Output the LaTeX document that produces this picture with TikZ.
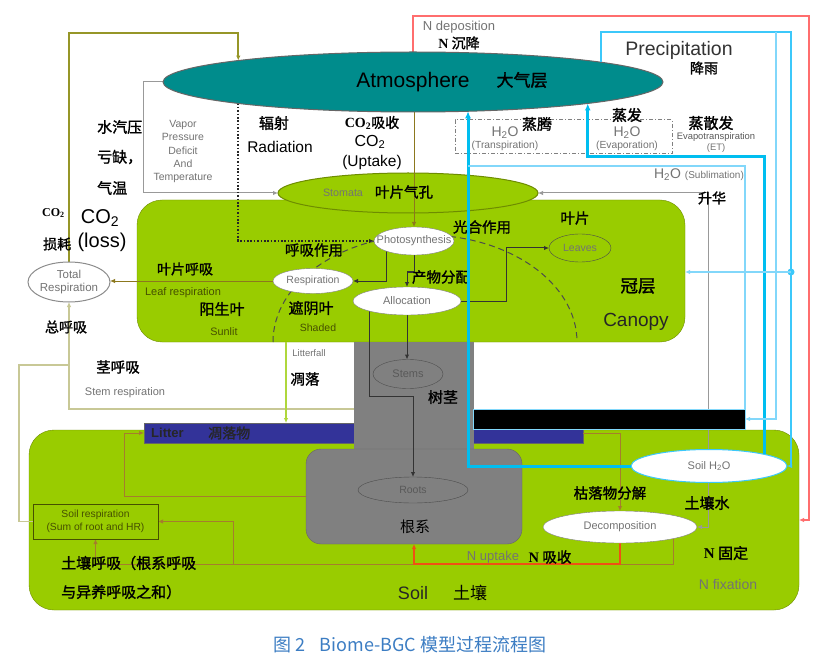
\documentclass[tikz,border=0pt]{standalone}
\usepackage{fontspec}
\setmainfont{Liberation Sans}
\setsansfont{Liberation Sans}
\newfontfamily\lserif{Liberation Serif}
\newfontfamily\cjk{Noto Sans CJK SC}
\newfontfamily\cjkb[FakeBold=1.5]{Noto Sans CJK SC}
\usetikzlibrary{shapes.geometric,arrows.meta}
\pgfdeclarelayer{back}
\pgfdeclarelayer{lines}
\pgfdeclarelayer{front}
\pgfsetlayers{back,lines,main,front}
\definecolor{leaf}{RGB}{153,204,0}
\definecolor{leafdk}{RGB}{110,140,0}
\definecolor{atmc}{RGB}{0,140,140}
\definecolor{olv}{RGB}{150,150,40}
\definecolor{olv2}{RGB}{140,120,30}
\definecolor{pale}{RGB}{200,200,150}
\definecolor{lfall}{RGB}{175,215,60}
\definecolor{brn}{RGB}{165,125,45}
\definecolor{cyA}{RGB}{0,190,240}
\definecolor{cyB}{RGB}{60,200,250}
\definecolor{cyC}{RGB}{130,215,250}
\definecolor{nred}{RGB}{255,110,110}
\definecolor{uptk}{RGB}{240,80,20}
\definecolor{litc}{RGB}{51,51,153}
\definecolor{capc}{RGB}{60,125,195}
\definecolor{stemc}{RGB}{128,128,128}
\definecolor{txtol}{RGB}{70,80,0}
\tikzset{
  ell/.style={ellipse, inner sep=0pt, outer sep=0pt},
  cb/.style={inner sep=0pt, font=\cjkb\fontsize{#1}{#1}\selectfont},
  cr/.style={inner sep=0pt, font=\cjk\fontsize{#1}{#1}\selectfont},
  sa/.style={inner sep=0pt, font=\sffamily\fontsize{#1}{#1}\selectfont},
  gt/.style={sa=#1, text=black!55},
  kolv/.style={draw=olv, line width=2.2pt},
  kresp/.style={draw=olv2, line width=1pt},
  kpale/.style={draw=pale, line width=1.3pt},
  kfall/.style={draw=lfall, line width=1.2pt},
  kbrn/.style={draw=brn, line width=0.9pt},
  kdark/.style={draw=black!80, line width=1pt},
  kgray/.style={draw=black!40, line width=1pt},
  kred/.style={draw=nred, line width=1.3pt},
  kupt/.style={draw=uptk, line width=1.2pt},
  kcyA/.style={draw=cyA, line width=3pt, -{Latex[length=7pt,width=6pt]}},
  kcyB/.style={draw=cyB, line width=1.6pt},
  kcyC/.style={draw=cyC, line width=1.2pt},
  kdot/.style={draw=black!85, line width=1.6pt, dash pattern=on 1.6pt off 1.8pt},
  kdash/.style={draw=black!70, line width=1pt, dash pattern=on 6pt off 4pt},
  kdashdot/.style={draw=black!50, line width=1pt, dash pattern=on 4pt off 2pt on 1pt off 2pt},
}
\begin{document}
\begin{tikzpicture}[x=1pt,y=-1pt,>={Latex[length=5pt,width=4.5pt]}]
\useasboundingbox (0,0) rectangle (824,668);
\begin{pgfonlayer}{back}
\fill[white] (0,0) rectangle (824,668);
\node[draw=leafdk, fill=leaf, rounded corners=25pt, minimum width=548pt, minimum height=142pt, inner sep=0pt, outer sep=0pt] (canopy) at (411,271) {};
\node[draw=leafdk, fill=leaf, rounded corners=25pt, minimum width=770pt, minimum height=180pt, inner sep=0pt, outer sep=0pt] (soil) at (414,520) {};
\node[fill=litc, draw=black!60, minimum width=439pt, minimum height=20pt, inner sep=0pt, outer sep=0pt] (litter) at (363.5,433) {};
\node[fill=stemc, minimum width=120pt, minimum height=108pt, inner sep=0pt, outer sep=0pt] (stem) at (414,396) {};
\node[fill=stemc, draw=black!60, rounded corners=15pt, minimum width=216pt, minimum height=95pt, inner sep=0pt, outer sep=0pt] (rootbox) at (414,496.5) {};
\node[ell, fill=leaf, draw=leafdk, line width=1pt, minimum width=260pt, minimum height=40pt] (stomata) at (408,193) {};
\node[kdashdot, minimum width=217pt, minimum height=34pt, inner sep=0pt, outer sep=0pt] (etbox) at (563.5,137) {};
\end{pgfonlayer}
% main shapes
\node[fill=black, draw=cyC, minimum width=272pt, minimum height=20pt, inner sep=0pt, outer sep=0pt] (snow) at (609,419) {};
\node[ell, fill=atmc, draw=black!60, line width=1pt, minimum width=500pt, minimum height=60pt] (atm) at (413,82) {};
\node[ell, fill=white, draw=black!50, minimum width=80pt, minimum height=28pt] (photo) at (414,241) {};
\node[ell, fill=white, draw=black!50, minimum width=80pt, minimum height=25pt] (resp) at (313,281) {};
\node[ell, fill=white, draw=black!50, minimum width=108pt, minimum height=28pt] (alloc) at (407,301) {};
\node[ell, draw=black!70, minimum width=62pt, minimum height=28pt] (leaves) at (580,248) {};
\node[ell, draw=black!70, minimum width=70pt, minimum height=29pt] (stems) at (408,374) {};
\node[ell, draw=black!70, minimum width=110pt, minimum height=26pt] (roots) at (413,490) {};
\node[ell, fill=white, draw=black!45, line width=1pt, minimum width=82pt, minimum height=40pt] (totresp) at (69,282) {};
\node[draw=txtol, line width=1pt, minimum width=125pt, minimum height=35pt, inner sep=0pt, outer sep=0pt] (soilresp) at (95.5,521.5) {};
\node[ell, fill=white, draw=black!50, minimum width=154pt, minimum height=32pt] (decomp) at (620,527) {};
\node[ell, fill=white, draw=cyB, line width=1pt, minimum width=156pt, minimum height=33pt] (soilh2o) at (709,466) {};
% helper coordinates
\coordinate (rTop) at (809,16);
\coordinate (gV) at (708,360);
\coordinate (sR) at (354,409);
\coordinate (sJ) at (69,365);
\coordinate (lf) at (286,342);
\coordinate (bJ) at (233,564);
\coordinate (arcS) at (273,342);
\coordinate (pTR) at (791,32);
\coordinate (pdot) at (791,272);
\coordinate (pSn) at (776,32);
\coordinate (tJoin) at (468,166);
\begin{pgfonlayer}{lines}
\draw[kolv,->] (totresp.north) -- ++(0,-229) -| (atm.173);
\draw[kgray,->] (atm.west) -- ++(-20,0) |- (stomata.west);
\draw[kdot,->] (atm.187) |- (photo.west);
\draw[kresp,->] (atm.south -| photo.north) -- (photo.north);
\draw[kred,->] (atm.north) |- (rTop) |- (soil.east);
\draw[kgray,<->] (stomata.east) -| (gV) |- (decomp.east);
\draw[kdash] (arcS) arc[start angle=180,end angle=0,x radius=152pt,y radius=107pt];
\draw[kdark,->] (photo.200) |- (resp.east);
\draw[kdark,->] (photo.south) -- ++(0,17) -| (alloc.north);
\draw[kdark,->] (alloc.east) -- ++(45,0) |- (leaves.west);
\draw[kdark,->] (alloc.south) -- (alloc.south |- stems.north);
\draw[kdark,->] (alloc.195) -- ++(0,85) -| (roots.north);
\draw[kresp,->] (resp.west) -- (resp.west -| totresp.east);
\draw[kpale,->] (sR) -| (totresp.south);
\draw[kpale] (soilresp.west) -- ++(-14,0) |- (sJ);
\draw[kfall,->] (lf) -- (lf |- litter.north);
\draw[kbrn,->] (litter.east) -| (decomp.north);
\draw[kbrn,->] (rootbox.west) -- ++(-182,0) |- (litter.west);
\draw[kbrn,->] (decomp.348.5) -- ++(0,26) -| (soilresp.south);
\draw[kbrn,->] (bJ) |- (soilresp.east);
\draw[kupt,->] (decomp.south) -- ++(0,21) -| (rootbox.south);
\end{pgfonlayer}
\begin{pgfonlayer}{front}
\draw[kcyA] (soilh2o.west) -| (atm.332);
\draw[kcyA] (soilh2o.12.4) -- ++(0,-298) -| (atm.353.25);
\draw[kcyB,->] (atm.6.75) |- (pTR) |- (soilh2o.east);
\fill[cyB] (pdot) circle (3.5pt);
\draw[kcyC,->] (pdot) -- (pdot -| canopy.east);
\draw[kcyC,->] (pSn) |- (snow.east);
\draw[kcyC] (snow.north east) |- (tJoin);
\end{pgfonlayer}
% texts in shapes
\node[gt=11] (photoT) at (photo) {Photosynthesis};
\node[gt=10.5] (respT) at (resp) {Respiration};
\node[gt=11] (allocT) at (alloc) {Allocation};
\node[gt=10.5] (leavesT) at (leaves) {Leaves};
\node[gt=11, text=black!65] (stemsT) at (stems) {Stems};
\node[gt=10.5, text=black!65] (rootsT) at (roots) {Roots};
\node[gt=11] (decompT) at (decomp) {Decomposition};
\node[gt=11] (soilh2oT) at (soilh2o) {Soil H\textsubscript{2}O};
\node[inner sep=0pt, align=center, text=black!55, font=\sffamily\fontsize{11.5}{13}\selectfont] (totT) at (totresp) {Total\\Respiration};
\node[inner sep=0pt, align=center, text=txtol, font=\sffamily\fontsize{10.3}{13}\selectfont] (srT) at (soilresp) {Soil respiration\\(Sum of root and HR)};
% labels
\node[gt=13] (t01) at (459,27) {N deposition};
\node[cb=14] (t02) at (459,43) {{\lserif\bfseries N} 沉降};
\node[sa=21] (t03) at (413,82) {Atmosphere};
\node[cb=17] (t04) at (522,80) {大气层};
\node[sa=19.5, text=black!80] (t05) at (679,50) {Precipitation};
\node[cb=14] (t06) at (704,68) {降雨};
\node[cb=15] (t07) at (537,124) {蒸腾};
\node[gt=14] (t08) at (505,133) {H\textsubscript{2}O};
\node[gt=10.3] (t09) at (505,146) {(Transpiration)};
\node[cb=15] (t10) at (627,115) {蒸发};
\node[gt=14] (t11) at (627,133) {H\textsubscript{2}O};
\node[gt=10.3] (t12) at (627,146) {(Evaporation)};
\node[cb=15] (t13) at (711,123) {蒸散发};
\node[gt=9.4, text=black!65] (t14) at (716,137) {Evapotranspiration};
\node[gt=9.4] (t15) at (716,148) {(ET)};
\node[gt=14] (t16) at (699,175) {H\textsubscript{2}O {\fontsize{10}{10}\selectfont(Sublimation)}};
\node[cb=14] (t17) at (712,198) {升华};
\node[cb=15, anchor=west] (t18) at (97,127) {水汽压};
\node[cb=15, anchor=west] (t19) at (97,157) {亏缺，};
\node[cb=15, anchor=west] (t20) at (97,188) {气温};
\node[inner sep=0pt, text=black!55, align=center, font=\sffamily\fontsize{10.5}{13.3}\selectfont] (t21) at (183,151.5) {Vapor\\Pressure\\Deficit\\And\\Temperature};
\node[cb=15] (t22) at (274,123) {辐射};
\node[sa=15.5] (t23) at (280,147) {Radiation};
\node[cb=14] (t24) at (372,123) {{\lserif\bfseries CO\textsubscript{2}}吸收};
\node[sa=16] (t25) at (370,142) {CO\textsubscript{2}};
\node[sa=15.5] (t26) at (372,162) {(Uptake)};
\node[gt=10.7] (t27) at (343,193) {Stomata};
\node[cb=14.5] (t28) at (404,192) {叶片气孔};
\node[inner sep=0pt, font=\lserif\bfseries\fontsize{12}{12}\selectfont, anchor=west] (t29) at (42,213) {CO\textsubscript{2}};
\node[cb=14, anchor=west] (t30) at (43,244) {损耗};
\node[sa=20] (t31) at (100,218) {CO\textsubscript{2}};
\node[sa=20] (t32) at (102,242) {(loss)};
\node[cb=14] (t33) at (66,327) {总呼吸};
\node[cb=14] (t34) at (185,269) {叶片呼吸};
\node[sa=11, text=txtol] (t35) at (183,293) {Leaf respiration};
\node[cb=15] (t36) at (222,309) {阳生叶};
\node[sa=10.8, text=txtol] (t37) at (224,332) {Sunlit};
\node[cb=14.5] (t38) at (314,250) {呼吸作用};
\node[cb=15] (t39) at (311,308) {遮阴叶};
\node[sa=10.5, text=txtol] (t40) at (318,328) {Shaded};
\node[cb=14.5] (t41) at (482,227) {光合作用};
\node[cb=14.5] (t42) at (441,277) {产物分配};
\node[cb=14.5] (t43) at (575,218) {叶片};
\node[cb=17.5] (t44) at (638,286) {冠层};
\node[sa=19, text=black!85] (t45) at (636,322) {Canopy};
\node[gt=9.5] (t46) at (309,353) {Litterfall};
\node[cb=14.5] (t47) at (305,379) {凋落};
\node[cb=14.5] (t48) at (118,367) {茎呼吸};
\node[gt=11] (t49) at (125,393) {Stem respiration};
\node[cb=15] (t50) at (443,397) {树茎};
\node[inner sep=0pt, anchor=west, font=\sffamily\bfseries\fontsize{13}{13}\selectfont, text=black!85] (t51) at (151,433) {Litter};
\node[cb=14, anchor=west, text=black!85] (t52) at (208,433) {凋落物};
\node[cb=15, anchor=west] (t54) at (61,563) {土壤呼吸（根系呼吸};
\node[cb=15, anchor=west] (t55) at (61,592) {与异养呼吸之和）};
\node[cr=15] (t56) at (415,527) {根系};
\node[gt=13] (t57) at (493,557) {N uptake};
\node[cb=14.5] (t58) at (550,557) {{\lserif\bfseries N} 吸收};
\node[sa=18, text=black!85] (t59) at (413,593) {Soil};
\node[cr=17] (t60) at (470,593) {土壤};
\node[cb=14.5] (t61) at (610,493) {枯落物分解};
\node[cb=15] (t62) at (707,503) {土壤水};
\node[cb=15] (t63) at (726,553) {{\lserif\bfseries N} 固定};
\node[gt=14] (t64) at (728,584) {N fixation};
\node[inner sep=0pt, text=capc, font=\cjk\fontsize{18}{18}\selectfont] (cap) at (410,645) {图 2\hspace{14pt}Biome-BGC 模型过程流程图};
\end{tikzpicture}
\end{document}
